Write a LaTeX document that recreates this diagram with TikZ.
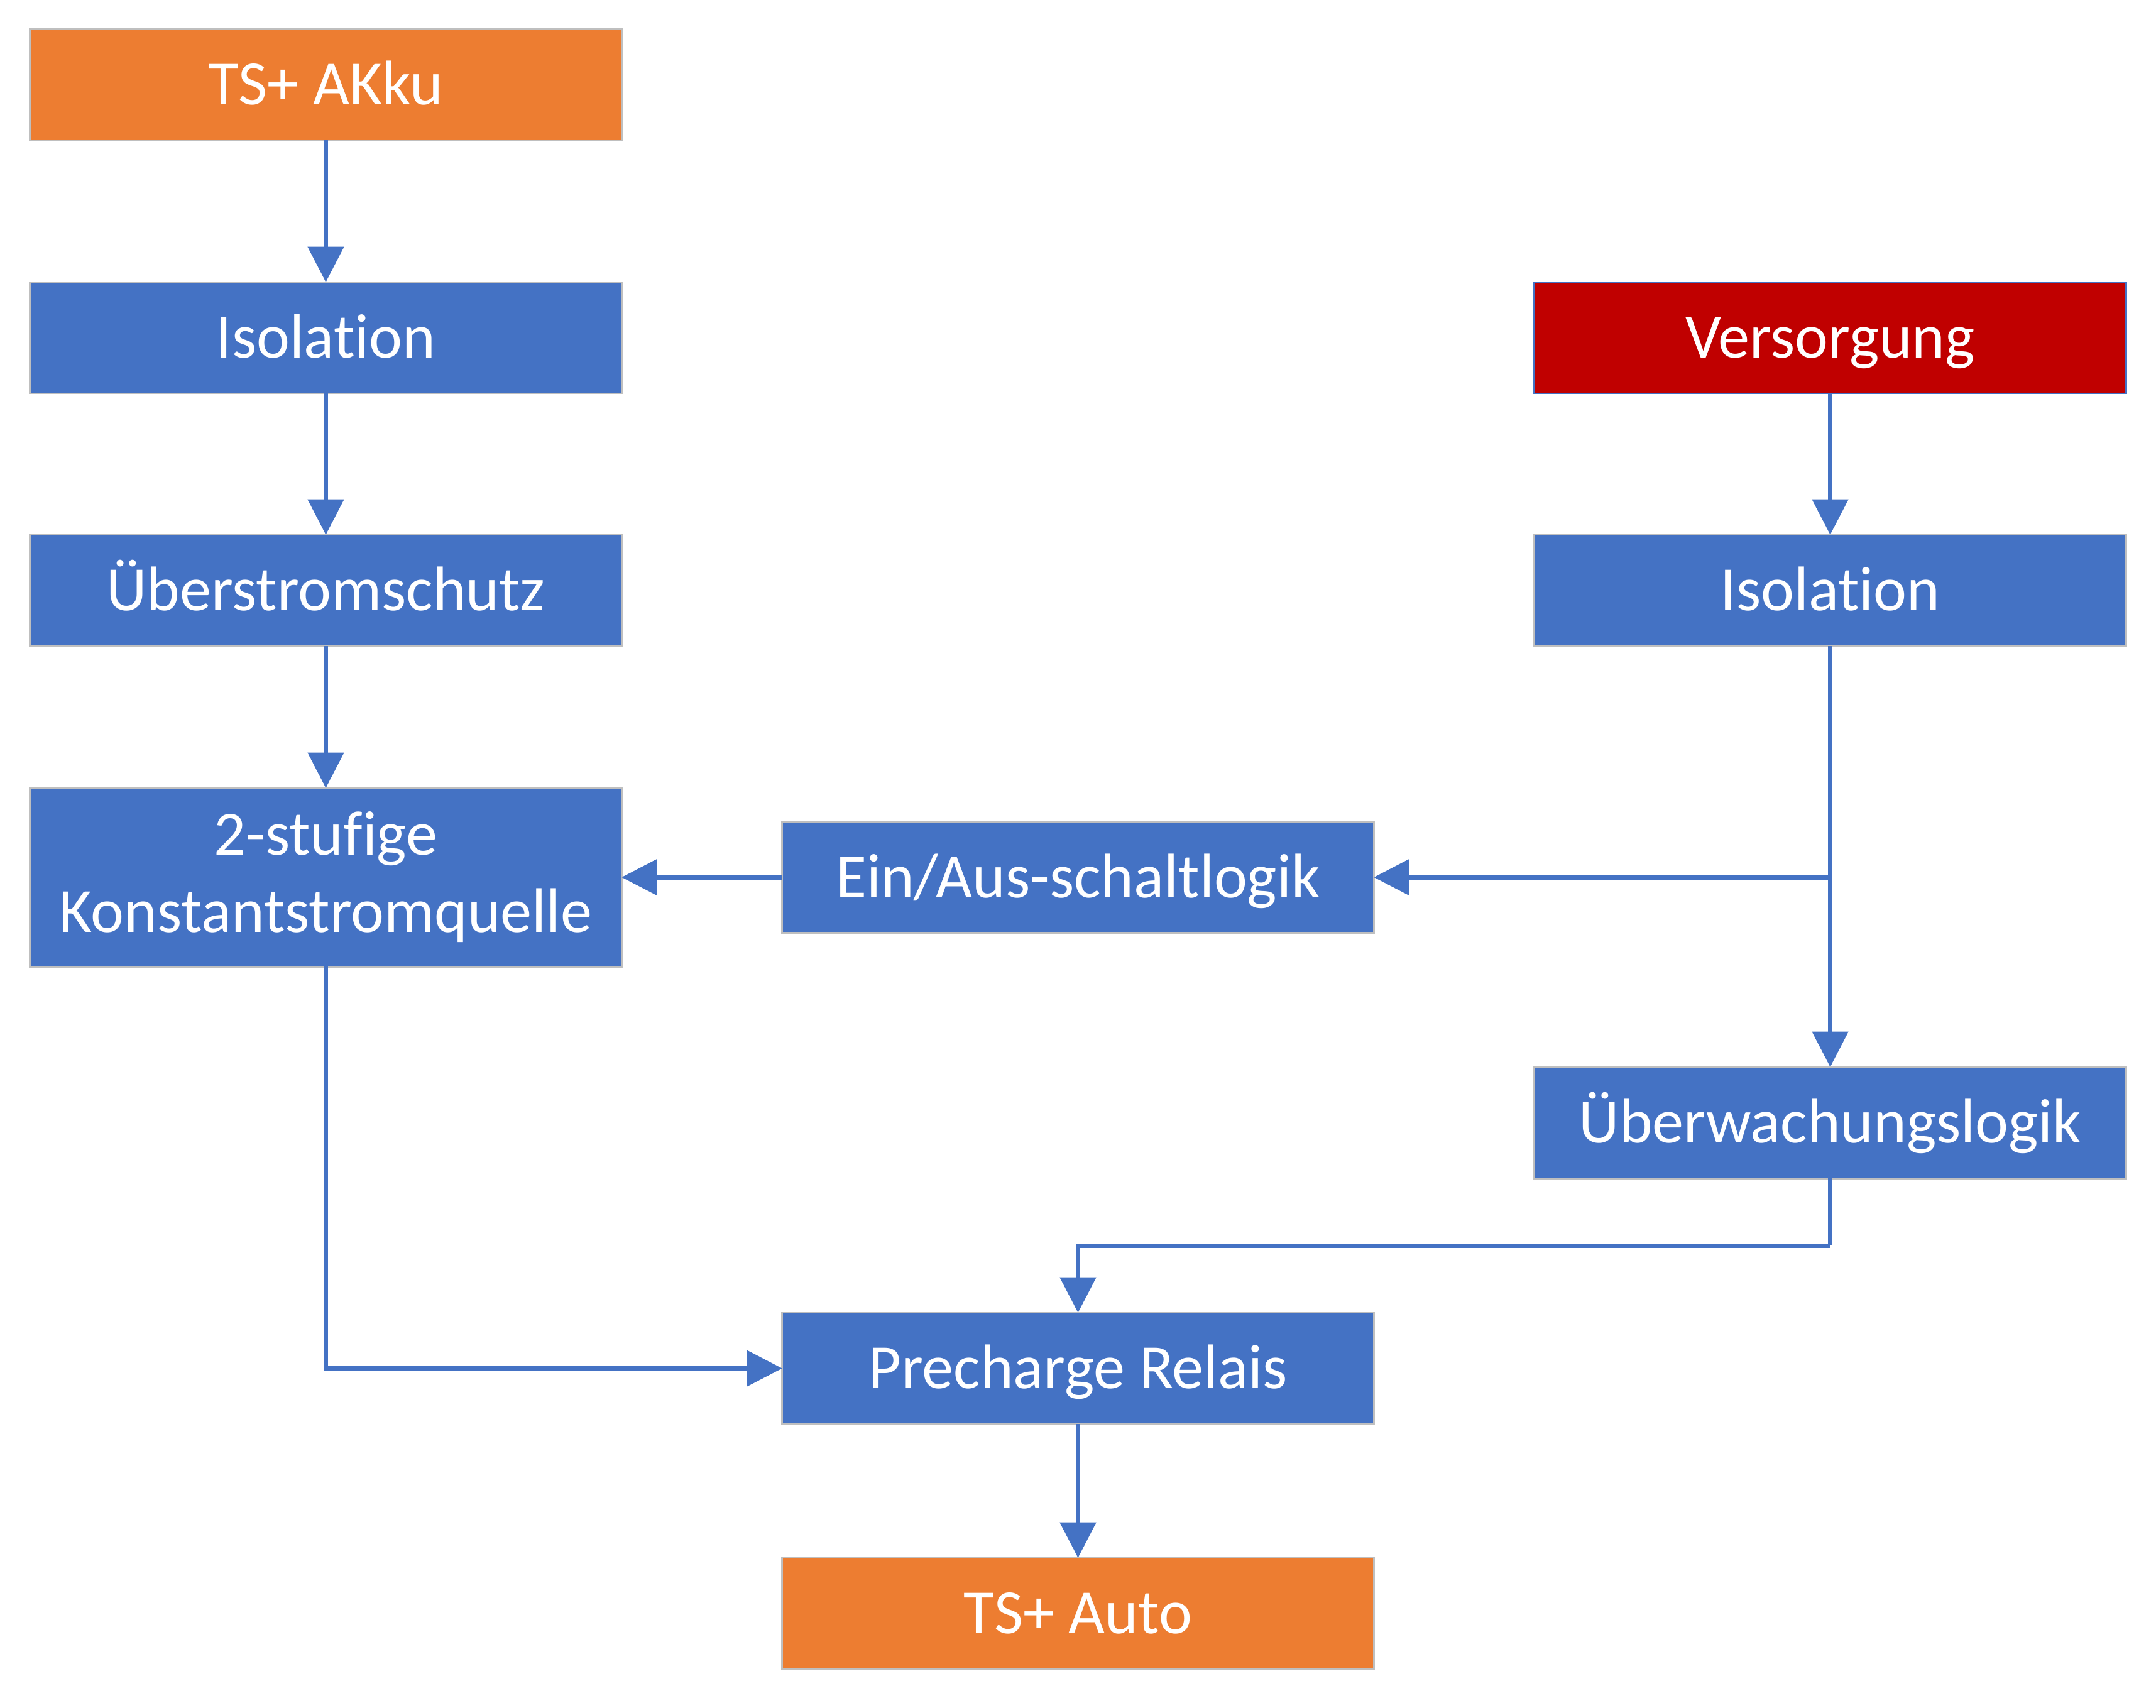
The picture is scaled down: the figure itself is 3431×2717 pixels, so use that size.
\documentclass[tikz,border=0pt]{standalone}
\usepackage{fontspec}
\setmainfont[Ligatures=NoCommon]{Carlito}
\usetikzlibrary{arrows.meta}
\definecolor{boxblue}{HTML}{4472C4}
\definecolor{boxorange}{HTML}{ED7D31}
\definecolor{boxred}{HTML}{C00000}
\definecolor{edgegray}{HTML}{BFBFBF}
\begin{document}
\begin{tikzpicture}[x=0.01cm,y=-0.01cm,
  blk/.style={draw=edgegray,line width=0.8pt,fill=boxblue,text=white,
    minimum width=9.41cm,minimum height=1.77cm,inner sep=0pt,outer sep=0pt,
    align=center,font=\fontsize{28.5}{35}\selectfont},
  oneline/.style={text height=18.4pt,text depth=0pt},
  orangeblk/.style={blk,fill=boxorange},
  redblk/.style={blk,fill=boxred,draw=boxblue},
  conn/.style={draw=boxblue,line width=2pt,-{Triangle[length=16pt,width=16pt]}},
  plain/.style={draw=boxblue,line width=2pt}]
\useasboundingbox (0,0) rectangle (3431,2717);
\node[orangeblk,oneline] (akku) at (518.5,134.5) {TS+ AKku};
\node[blk,oneline] (iso1) at (518.5,537.5) {Isolation};
\node[blk,oneline] (ueber) at (518.5,939.5) {Überstromschutz};
\node[blk,minimum height=2.84cm] (konst) at (518.5,1396) {2-stufige\\Konstantstromquelle};
\node[blk,oneline] (einaus) at (1715.5,1396) {Ein/Aus-schaltlogik};
\node[redblk,oneline] (vers) at (2912.5,537.5) {Versorgung};
\node[blk,oneline] (iso2) at (2912.5,939.5) {Isolation};
\node[blk,oneline] (ueberw) at (2912.5,1786.5) {Überwachungslogik};
\node[blk,oneline] (prech) at (1715.5,2177.5) {Precharge Relais};
\node[orangeblk,oneline] (auto) at (1715.5,2567.5) {TS+ Auto};
\coordinate (j) at (iso2.south |- einaus.east);
\coordinate (k) at (2912.5,1982);
\draw[conn] (akku) -- (iso1);
\draw[conn] (iso1) -- (ueber);
\draw[conn] (ueber) -- (konst);
\draw[conn] (vers) -- (iso2);
\draw[conn] (iso2) -- (ueberw);
\draw[conn] (j) -- (einaus.east);
\draw[conn] (einaus) -- (konst);
\draw[conn] (konst.south) |- (prech.west);
\draw[plain] (ueberw.south) -- (k);
\draw[conn] (k) -| (prech.north);
\draw[conn] (prech) -- (auto);
\end{tikzpicture}
\end{document}
